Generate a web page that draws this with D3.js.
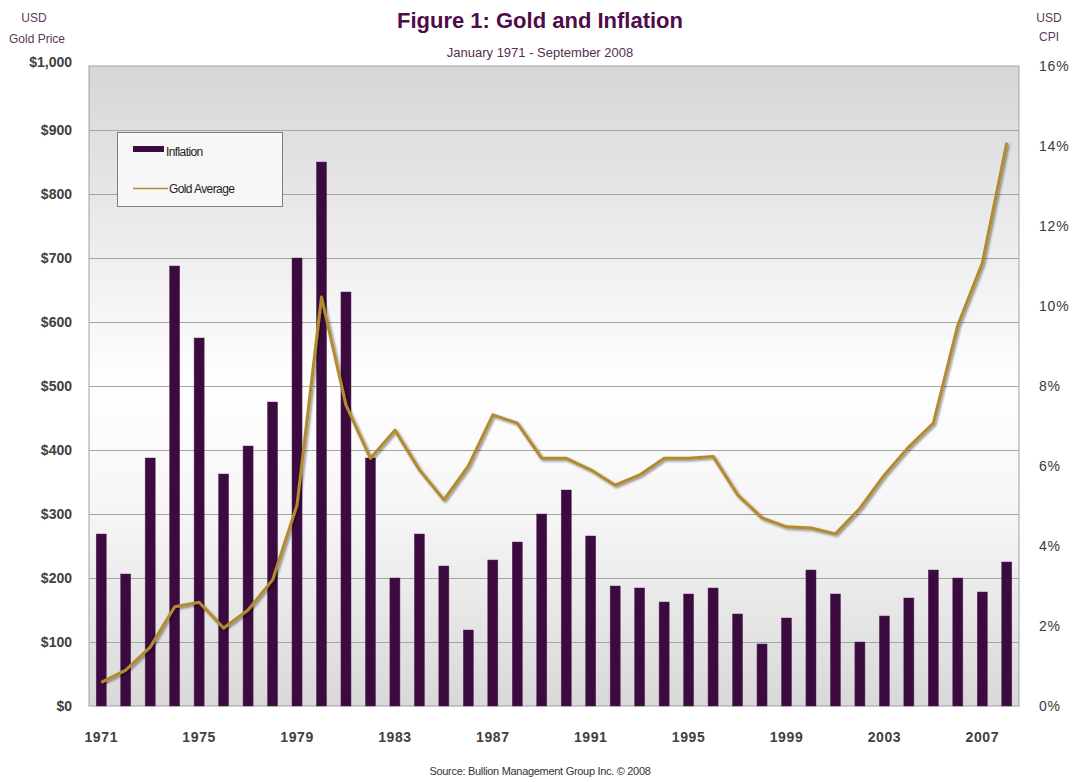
<!DOCTYPE html>
<html><head><meta charset="utf-8">
<script src="https://cdn.jsdelivr.net/npm/d3@7"></script>
<style>body{margin:0;background:#fff}svg{display:block}</style>
</head><body>
<svg id="c" width="1077" height="782"></svg>
<script>
const years = d3.range(1971, 2009);
const inflation = [4.3,3.3,6.2,11.0,9.2,5.8,6.5,7.6,11.2,13.6,10.35,6.2,3.2,4.3,3.5,1.9,3.65,4.1,4.8,5.4,4.25,3.0,2.95,2.6,2.8,2.95,2.3,1.55,2.2,3.4,2.8,1.6,2.25,2.7,3.4,3.2,2.85,3.6];
const goldAverage = [37,56,92,155,162,122,150,197,314,639,470,387,431,369,322,375,455,442,387,387,369,345,361,387,387,390,330,294,280,278,269,309,361,405,442,595,692,880];
const leftTicks = [0,100,200,300,400,500,600,700,800,900,1000];
const rightTicks = [0,2,4,6,8,10,12,14,16];
const xTickYears = [1971,1975,1979,1983,1987,1991,1995,1999,2003,2007];

const svg = d3.select("#c");
const m = {l:89, t:66, r:1019, b:706};
const x = d3.scaleBand().domain(years).range([m.l, m.r]).paddingInner(0.59).paddingOuter(0.295);
const yL = d3.scaleLinear().domain([0,1000]).range([m.b, m.t]);
const yR = d3.scaleLinear().domain([0,16]).range([m.b, m.t]);

const defs = svg.append("defs");
const g = defs.append("linearGradient").attr("id","bg").attr("x1",0).attr("y1",0).attr("x2",0).attr("y2",1);
g.append("stop").attr("offset","0%").attr("stop-color","#d6d6d6");
g.append("stop").attr("offset","50%").attr("stop-color","#ffffff");
g.append("stop").attr("offset","72%").attr("stop-color","#f4f4f4");
g.append("stop").attr("offset","100%").attr("stop-color","#d8d8d8");
const f = defs.append("filter").attr("id","sh").attr("x","-10%").attr("y","-10%").attr("width","120%").attr("height","120%");
f.append("feDropShadow").attr("dx",1.5).attr("dy",1.5).attr("stdDeviation",1.2).attr("flood-color","#000").attr("flood-opacity",0.45);

svg.append("rect").attr("x",m.l).attr("y",m.t).attr("width",m.r-m.l).attr("height",m.b-m.t)
  .attr("fill","url(#bg)").attr("stroke","#a0a0a0").attr("stroke-width",1);

// gridlines
svg.append("g").selectAll("line").data(leftTicks.slice(1,-1)).join("line")
  .attr("x1",m.l).attr("x2",m.r).attr("y1",d=>yL(d)+0.5).attr("y2",d=>yL(d)+0.5)
  .attr("stroke","#a4a4a4").attr("stroke-width",1);

// bars
svg.append("g").selectAll("rect").data(years).join("rect")
  .attr("x",d=>x(d)).attr("width",x.bandwidth())
  .attr("y",(d,i)=>yR(inflation[i])).attr("height",(d,i)=>m.b-yR(inflation[i]))
  .attr("fill","#3b0a3f").attr("stroke","#5a2a5a").attr("stroke-width",0.5);

// line
const line = d3.line().x((d,i)=>x(years[i])+x.bandwidth()/2).y(d=>yL(d)).curve(d3.curveLinear);
svg.append("path").datum(goldAverage).attr("d",line).attr("fill","none")
  .attr("stroke","#b48a2e").attr("stroke-width",3).attr("stroke-linejoin","round").attr("filter","url(#sh)");

// left axis
const axL = svg.append("g").attr("transform",`translate(${m.l-14},0)`)
  .call(d3.axisLeft(yL).tickValues(leftTicks).tickSize(0).tickFormat(d=>"$"+d3.format(",")(d)));
axL.select(".domain").remove();
axL.selectAll("text").attr("font-family","Liberation Sans, Arial").attr("font-size",14).attr("font-weight","bold").attr("fill","#404040").attr("dy","0.35em");
axL.selectAll(".tick").filter(d=>d===1000).select("text").attr("transform","translate(0,-4)");

// right axis
const axR = svg.append("g").attr("transform",`translate(${m.r+17},0)`)
  .call(d3.axisRight(yR).tickValues(rightTicks).tickSize(0).tickFormat(d=>d+"%"));
axR.select(".domain").remove();
axR.selectAll("text").attr("font-family","Liberation Sans, Arial").attr("font-size",14).attr("fill","#3a3a3a").attr("letter-spacing","0.8").attr("dy","0.35em");

// x axis
const axX = svg.append("g").attr("transform",`translate(0,${m.b+20})`)
  .call(d3.axisBottom(x).tickValues(xTickYears).tickSize(0));
axX.select(".domain").remove();
axX.selectAll("text").attr("font-family","Liberation Sans, Arial").attr("font-size",14).attr("font-weight","bold").attr("fill","#404040").attr("letter-spacing","0.6").attr("dy","0.9em");

// titles
svg.append("text").attr("x",540).attr("y",28).attr("text-anchor","middle")
  .attr("font-family","Liberation Sans, Arial").attr("font-weight","bold").attr("font-size",22).attr("fill","#4e0c48")
  .text("Figure 1: Gold and Inflation");
svg.append("text").attr("x",540).attr("y",57).attr("text-anchor","middle")
  .attr("font-family","Liberation Sans, Arial").attr("font-size",13).attr("fill","#553050")
  .text("January 1971 - September 2008");
const lab = (t,xx,yy)=>svg.append("text").attr("x",xx).attr("y",yy).attr("text-anchor","middle")
  .attr("font-family","Liberation Sans, Arial").attr("font-size",12).attr("fill","#5a3a55").text(t);
lab("USD",34,22); lab("Gold Price",37,43);
lab("USD",1049,22); lab("CPI",1049,41);
svg.append("text").attr("x",540).attr("y",775).attr("text-anchor","middle")
  .attr("font-family","Liberation Sans, Arial").attr("font-size",11).attr("fill","#333").attr("letter-spacing","-0.3")
  .text("Source: Bullion Management Group Inc. © 2008");

// legend
const lg = svg.append("g");
lg.append("rect").attr("x",117.5).attr("y",132.5).attr("width",165).attr("height",74)
  .attr("fill","#f7f7f7").attr("stroke","#808080").attr("stroke-width",1);
lg.append("rect").attr("x",133).attr("y",146).attr("width",31).attr("height",6).attr("fill","#3b0a3f");
lg.append("text").attr("x",166).attr("y",156).attr("font-family","Liberation Sans, Arial").attr("font-size",12).attr("fill","#222").attr("letter-spacing","-0.6").text("Inflation");
lg.append("line").attr("x1",133).attr("x2",168).attr("y1",188.5).attr("y2",188.5).attr("stroke","#b48a2e").attr("stroke-width",1.5);
lg.append("text").attr("x",169).attr("y",193).attr("font-family","Liberation Sans, Arial").attr("font-size",12).attr("fill","#222").attr("letter-spacing","-0.6").text("Gold Average");
</script>
</body></html>
